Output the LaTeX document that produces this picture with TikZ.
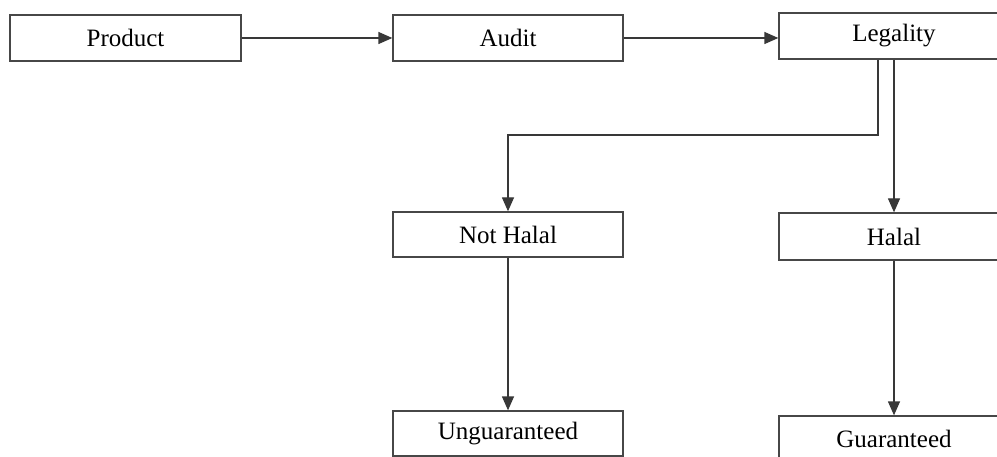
\documentclass[tikz,border=0pt]{standalone}
\usepackage{fontspec}
\setmainfont{Liberation Serif}
\usetikzlibrary{arrows.meta}
\begin{document}
\begin{tikzpicture}[x=1pt,y=-1pt,
  box/.style={draw=black!72, line width=1.3pt, fill=white, minimum width=230pt, minimum height=46pt, inner sep=0pt, font=\fontsize{25}{29}\selectfont},
  conn/.style={draw=black!78, line width=1.3pt, -{Triangle[length=14pt,width=12pt]}}]
\useasboundingbox (0,0) rectangle (997,457);
\clip (0,0) rectangle (997,457);
\node[box, minimum width=231pt] (product) at (125.5,38) {Product};
\node[box] (audit) at (508,38) {Audit};
\node[box] (legality) at (894,36) {Legality};
\node[box, minimum height=45pt] (nothalal) at (508,234.5) {Not Halal};
\node[box, minimum height=47pt] (halal) at (894,236.5) {Halal};
\node[box, minimum height=45pt] (unguar) at (508,433.5) {Unguaranteed};
\node[box] (guar) at (894,439) {Guaranteed};
\coordinate (split) at (878,135);
\draw[conn] (product.east |- 0,38) -- (audit.west |- 0,38);
\draw[conn] (audit.east |- 0,38) -- (legality.west |- 0,38);
\draw[conn] (legality.south -| split) -- (split) -- (split -| nothalal.north) -- (nothalal.north);
\draw[conn] (legality.south) -- (halal.north);
\draw[conn] (nothalal.south) -- (unguar.north);
\draw[conn] (halal.south) -- (guar.north);
\end{tikzpicture}
\end{document}
